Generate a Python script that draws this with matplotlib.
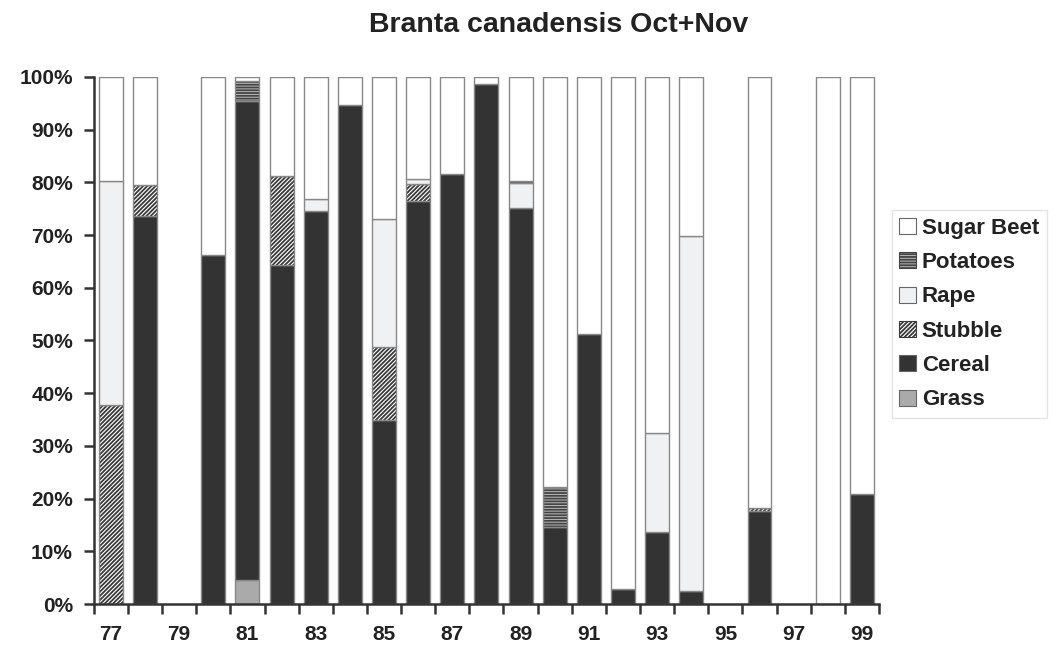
import numpy as np
import matplotlib
matplotlib.use("Agg")
import matplotlib.pyplot as plt
from matplotlib.patches import Patch

years = list(range(77, 100))
grass = [0, 0, 0, 0, 4.6, 0, 0, 0, 0, 0, 0, 0, 0, 0, 0, 0, 0, 0, 0, 0, 0, 0, 0]
cereal = [0, 73.6, 0, 66.2, 90.8, 64.3, 74.5, 94.6, 34.9, 76.5, 81.5, 98.6, 75.1,
          14.7, 51.2, 2.9, 13.6, 2.5, 0, 17.7, 0, 0, 20.9]
stubble = [37.7, 5.8, 0, 0, 0, 16.9, 0, 0, 13.9, 3.1, 0, 0, 0,
           0, 0, 0, 0, 0, 0, 0.6, 0, 0, 0]
rape = [42.5, 0, 0, 0, 0, 0, 2.3, 0, 24.2, 1.0, 0, 0, 4.7,
        0, 0, 0, 18.8, 67.3, 0, 0, 0, 0, 0]
potatoes = [0, 0, 0, 0, 3.8, 0, 0, 0, 0, 0, 0, 0, 0.5,
            7.5, 0, 0, 0, 0, 0, 0, 0, 0, 0]
sugar_beet = [19.8, 20.6, 0, 33.8, 0.8, 18.8, 23.2, 5.4, 27.0, 19.4, 18.5, 1.4, 19.7,
              77.8, 48.8, 97.1, 67.6, 30.2, 0, 81.7, 0, 100, 79.1]

# name, values, face, hatch, hatch colour (bottom to top)
series = [
    ("Grass", grass, "#aaaaaa", None, "#888888"),
    ("Cereal", cereal, "#333333", None, "#333333"),
    ("Stubble", stubble, "white", "////////", "#3a3a3a"),
    ("Rape", rape, "#f0f1f3", None, "#888888"),
    ("Potatoes", potatoes, "#bbbbbb", "------", "#444444"),
    ("Sugar Beet", sugar_beet, "white", None, "#888888"),
]

plt.rcParams['font.family'] = ['Liberation Sans', 'DejaVu Sans']
plt.rcParams['hatch.linewidth'] = 1.3

fig = plt.figure(figsize=(10.54, 6.46), dpi=100)
ax = fig.add_axes([0.089, 0.065, 0.745, 0.816])

x = np.arange(len(years))
width = 0.7
bottom = np.zeros(len(years))
for name, vals, face, hatch, hc in series:
    vals = np.array(vals, dtype=float)
    for i in range(len(years)):
        if vals[i] <= 0:
            continue
        if hatch:
            ax.bar(x[i], vals[i], width, bottom=bottom[i], color=face,
                   hatch=hatch, edgecolor=hc, linewidth=0)
            ax.bar(x[i], vals[i], width, bottom=bottom[i], fill=False,
                   edgecolor="#888888", linewidth=1.0)
        else:
            ax.bar(x[i], vals[i], width, bottom=bottom[i], color=face,
                   edgecolor="#888888", linewidth=1.0)
    bottom += vals

ax.set_xlim(-0.5, len(years) - 0.5)
ax.set_ylim(0, 100)
ax.set_yticks(range(0, 101, 10))
ax.set_yticklabels([f"{v}%" for v in range(0, 101, 10)], fontsize=15, fontweight="bold",
                   color="#222222")
ax.set_xticks(x[::2])
ax.set_xticklabels([str(y) for y in years[::2]], fontsize=15, fontweight="bold",
                   color="#222222")
ax.set_xticks(np.arange(len(years) + 1) - 0.5, minor=True)
ax.tick_params(axis="x", which="major", length=0, pad=15)
ax.tick_params(axis="x", which="minor", length=7, width=1.8, color="#333333")
ax.tick_params(axis="y", length=7, width=1.8, color="#333333", pad=8)

for s in ["top", "right"]:
    ax.spines[s].set_visible(False)
for s in ["left", "bottom"]:
    ax.spines[s].set_linewidth(1.8)
    ax.spines[s].set_color("#333333")

fig.text(0.530, 0.962, "Branta canadensis Oct+Nov", ha="center", va="center",
         fontsize=20.5, fontweight="bold", color="#222222")

handles = []
for name, vals, face, hatch, hc in reversed(series):
    if hatch:
        handles.append(Patch(facecolor=face, hatch=hatch, edgecolor=hc, linewidth=0.8, label=name))
    else:
        handles.append(Patch(facecolor=face, edgecolor="#666666", linewidth=0.8, label=name))
leg = fig.legend(handles=handles, loc="upper left", bbox_to_anchor=(0.846, 0.675),
                 fancybox=False, edgecolor="#dddddd",
                 prop={"weight": "bold", "size": 16},
                 handlelength=0.75, handleheight=0.75, handletextpad=0.25,
                 labelspacing=0.6, borderpad=0.35, borderaxespad=0)
for t in leg.get_texts():
    t.set_color("#222222")

fig.savefig("out.png", dpi=100)
